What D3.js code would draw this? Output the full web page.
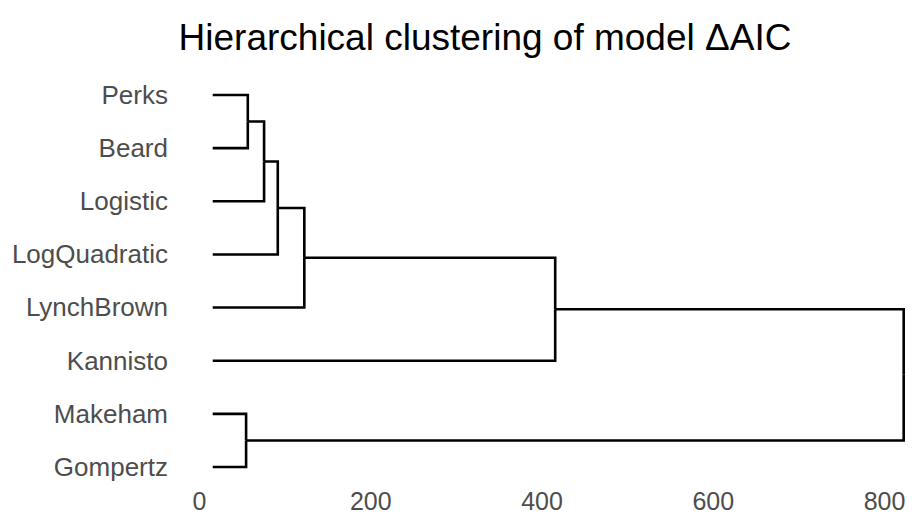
<!DOCTYPE html>
<html>
<head>
<meta charset="utf-8">
<script src="https://cdn.jsdelivr.net/npm/d3@7"></script>
<style>
  body { margin: 0; background: #fff; }
  svg { font-family: "Liberation Sans", Arial, sans-serif; }
</style>
</head>
<body>
<script>
// leaves, top to bottom
var leafNames = ["Perks", "Beard", "Logistic", "LogQuadratic", "LynchBrown", "Kannisto", "Makeham", "Gompertz"];
// merges like hclust: negative = leaf (1-based), positive = earlier merge
var mergeLeft   = [-1, 1, 2, 3, 4, -7, 5];
var mergeRight  = [-2, -3, -4, -5, -6, -8, 6];
var mergeHeight = [57, 76, 92, 123, 416, 55, 823];
var leafHeight = 16;
var xTicks = [0, 200, 400, 600, 800];

const width = 912, height = 514;

var svg = d3.select("body")
    .append("svg")
    .attr("width", width)
    .attr("height", height);

var x = d3.scaleLinear().domain([0, 800]).range([199, 884]);
var y = d3.scalePoint().domain(leafNames).range([95, 467]);

function build(i) {
    if (i < 0) return {name: leafNames[-i - 1], h: leafHeight};
    return {name: "m" + i, h: mergeHeight[i - 1],
            children: [build(mergeLeft[i - 1]), build(mergeRight[i - 1])]};
}

var root = d3.hierarchy(build(mergeHeight.length));
root.eachAfter(function(d) {
    d.px = x(d.data.h);
    d.py = d.children ? d3.mean(d.children, function(c) { return c.py; }) : y(d.data.name);
});

svg.append("g")
    .selectAll("path")
    .data(root.links())
    .enter()
    .append("path")
    .attr("d", function(l) {
        return "M" + l.target.px + "," + l.target.py + "H" + l.source.px + "V" + l.source.py;
    })
    .style("fill", "none")
    .style("stroke", "black")
    .style("stroke-width", 2.6)
    .style("stroke-linejoin", "miter");

// leaf labels
var yAxis = svg.append("g")
    .attr("transform", "translate(213,0)")
    .call(d3.axisLeft(y).tickSize(0).tickPadding(45));
yAxis.select(".domain").remove();
yAxis.selectAll("text")
    .style("font-size", "26px")
    .style("fill", "#4d4d4d")
    .style("font-family", "'Liberation Sans', Arial, sans-serif");

// x axis
var xAxis = svg.append("g")
    .attr("transform", "translate(0,487)")
    .call(d3.axisBottom(x).tickValues(xTicks).tickSize(0).tickPadding(5).tickFormat(d3.format("d")));
xAxis.select(".domain").remove();
xAxis.selectAll("text")
    .style("font-size", "25px")
    .style("fill", "#4d4d4d")
    .style("font-family", "'Liberation Sans', Arial, sans-serif");

svg.append("text")
    .attr("x", 485)
    .attr("y", 50)
    .attr("text-anchor", "middle")
    .style("font-size", "37px")
    .style("fill", "black")
    .text("Hierarchical clustering of model \u0394AIC");
</script>
</body>
</html>
